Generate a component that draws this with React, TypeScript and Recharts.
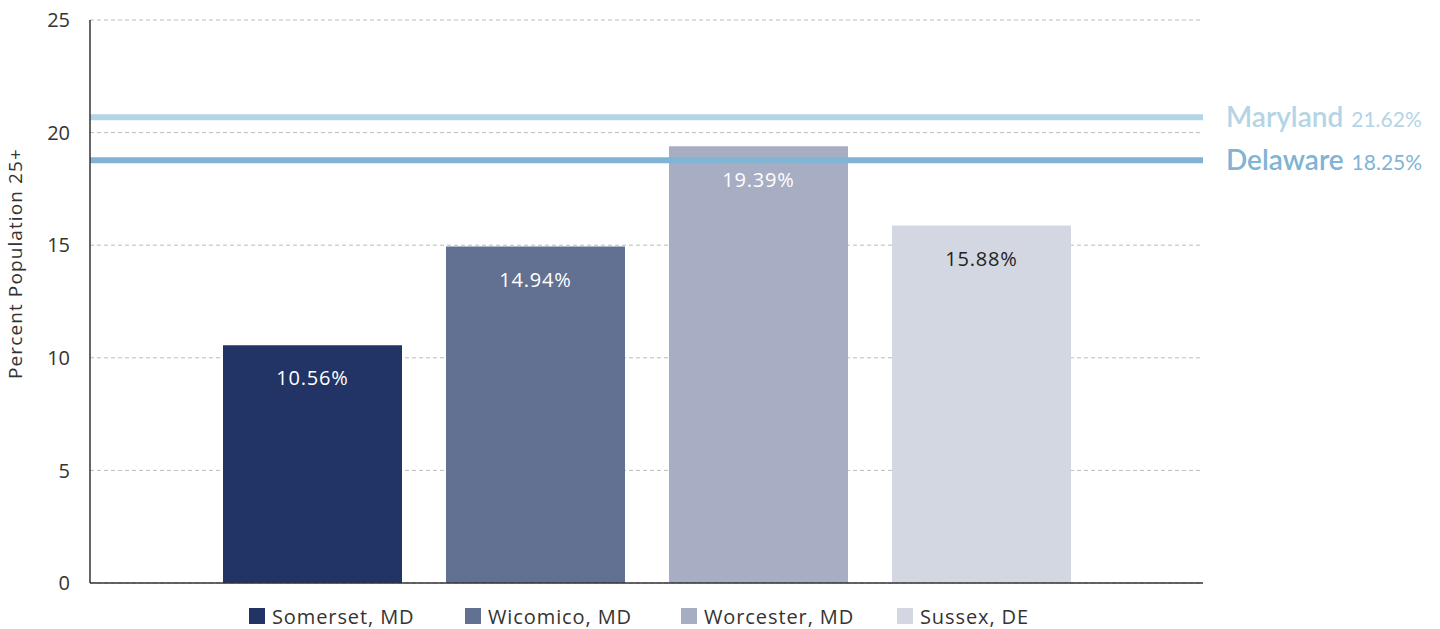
import { BarChart, Bar, XAxis, YAxis, CartesianGrid, ReferenceLine, Legend, LabelList } from "recharts";

const categories = ["Percent Population 25+"];
const seriesNames = ["Somerset, MD", "Wicomico, MD", "Worcester, MD", "Sussex, DE"];
const seriesValues = [10.56, 14.94, 19.39, 15.88];
const seriesColors = ["#223366", "#627092", "#a7adc2", "#d3d7e1"];
const labelColors = ["#ffffff", "#ffffff", "#ffffff", "#222222"];
const yTicks = [0, 5, 10, 15, 20, 25];

// state reference lines: drawn position, label text as printed
const stateNames = ["Maryland", "Delaware"];
const stateLineValues = [20.68, 18.77];
const stateLabels = ["21.62%", "18.25%"];
const stateColors = ["#b3d5e6", "#7fb4d5"];

const data = categories.map((c) => {
  const row: any = { name: c };
  seriesNames.forEach((s, i) => (row[s] = seriesValues[i]));
  return row;
});

const StateLabel = (props: any) => {
  const { viewBox, name, pct, color } = props;
  if (!viewBox) return null;
  return (
    <text x={viewBox.x + viewBox.width + 23} y={viewBox.y} dy={10} fill={color} fontFamily="Lato">
      <tspan fontSize={28} fontWeight={600}>{name}</tspan>
      <tspan fontSize={21} fontWeight={400} dx={8}>{pct}</tspan>
    </text>
  );
};

const AxisTitle = (props: any) => {
  const { viewBox } = props;
  if (!viewBox) return null;
  const x = 22;
  const y = viewBox.y + viewBox.height / 2 - 38;
  return (
    <text x={x} y={y} transform={`rotate(-90 ${x} ${y})`} textAnchor="middle" fill="#333" fontSize={19} letterSpacing={1.1} fontFamily="Open Sans">
      Percent Population 25+
    </text>
  );
};

const LegendBox = () => (
  <div style={{ display: "flex", height: 26, alignItems: "center", fontFamily: "Open Sans", fontSize: 20, letterSpacing: 0.9, color: "#333" }}>
    {seriesNames.map((s, i) => (
      <div key={s} style={{ display: "flex", alignItems: "center", width: 216 }}>
        <span style={{ width: 16, height: 16, background: seriesColors[i], marginRight: 7, display: "inline-block" }} />
        <span>{s}</span>
      </div>
    ))}
  </div>
);

export default function App() {
  return (
    <div style={{ position: "absolute", left: 0, top: 0, width: 1440, height: 629, background: "#fff" }}>
      <BarChart
        width={1440}
        height={629}
        data={data}
        margin={{ top: 20, right: 237, bottom: 19, left: 0 }}
        barCategoryGap={133}
        barGap={44}
        barSize={179}
      >
        <CartesianGrid vertical={false} stroke="#bbbbbb" strokeDasharray="4 3" />
        <XAxis dataKey="name" tick={false} height={1} axisLine={{ stroke: "#333", strokeWidth: 1.5 }} tickLine={false} />
        <YAxis
          width={90}
          domain={[0, 25]}
          ticks={yTicks}
          tickLine={false}
          tickMargin={14}
          axisLine={{ stroke: "#333", strokeWidth: 1.5 }}
          tick={{ fill: "#333", fontSize: 20, fontFamily: "Open Sans" }}
          label={<AxisTitle />}
        />
        {seriesNames.map((s, i) => (
          <Bar key={s} dataKey={s} fill={seriesColors[i]} isAnimationActive={false}>
            <LabelList dataKey={s} position="insideTop" offset={26} fill={labelColors[i]} fontSize={20} letterSpacing={0.8} fontFamily="Open Sans" formatter={(v: any) => `${v}%`} />
          </Bar>
        ))}
        {stateNames.map((n, i) => (
          <ReferenceLine
            key={n}
            y={stateLineValues[i]}
            stroke={stateColors[i]}
            strokeWidth={6}
            label={<StateLabel name={n} pct={stateLabels[i]} color={stateColors[i]} />}
          />
        ))}
        <Legend content={<LegendBox />} wrapperStyle={{ left: 249, top: 603, width: "auto" }} />
      </BarChart>
    </div>
  );
}
